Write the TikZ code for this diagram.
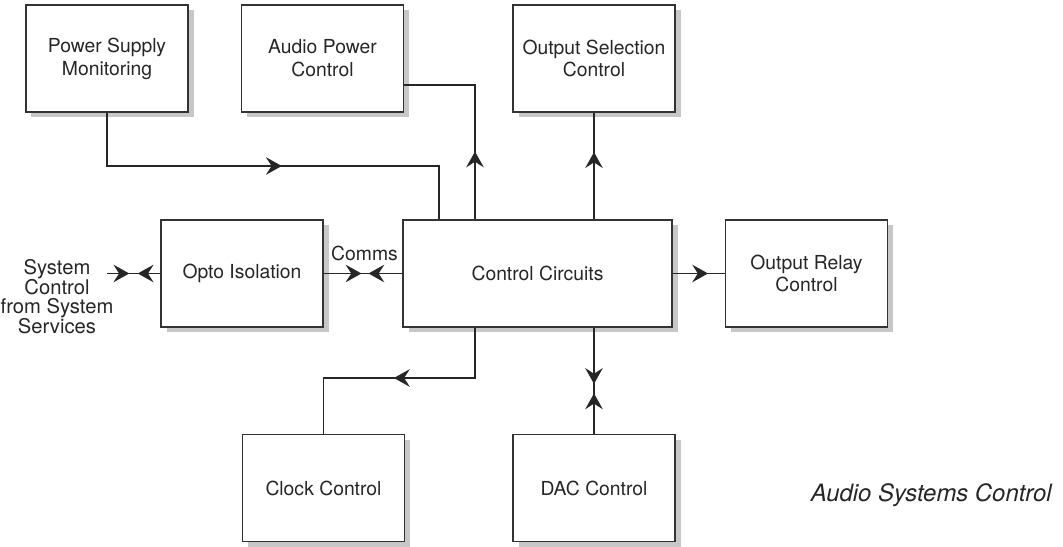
\documentclass[tikz,border=0pt]{standalone}
\usepackage{fontspec}
\setmainfont{TeX Gyre Heros}
\usetikzlibrary{arrows.meta,decorations.markings,shadows}

\begin{document}
\begin{tikzpicture}[
    font=\fontsize{11}{13}\selectfont, text=black!85,
    >={Stealth[length=9pt, width=10pt, inset=3.2pt]},
    block/.style={draw=black!80, line width=1.1pt, fill=white, align=center,
        minimum width=3.24cm, minimum height=2.14cm, inner sep=0pt,
        drop shadow={shadow xshift=0.11cm, shadow yshift=-0.11cm, fill=black!22, opacity=1}},
    link/.style={draw=black!85, line width=0.8pt},
    midarrow/.style={postaction={decorate}, decoration={markings,
        mark=at position #1 with {\arrow{>}}}},
    meet/.style 2 args={postaction={decorate}, decoration={markings,
        mark=at position #1 with {\arrow{>}},
        mark=at position #2 with {\arrowreversed{>}}}},
]
    \useasboundingbox (0,0) rectangle (21.26,10.94);

    \node[block] (psm) at (2.14,9.77) {Power Supply\\Monitoring};
    \node[block] (apc) at (6.45,9.77) {Audio Power\\Control};
    \node[block] (osc) at (11.88,9.77) {Output Selection\\Control};
    \node[block] (opto) at (4.84,5.47) {Opto Isolation};
    \node[block, minimum width=5.38cm] (ctrl) at (10.75,5.47) {Control Circuits};
    \node[block] (orc) at (16.13,5.47) {Output Relay\\Control};
    \node[block] (clk) at (6.47,1.18) {Clock Control};
    \node[block] (dac) at (11.88,1.18) {DAC Control};

    \node[align=center, font=\fontsize{11.5}{11.2}\selectfont] (sys) at (1.14,5.01) {System\\Control\\from System\\Services};
    \node (comms) at (7.29,5.88) {Comms};
    \node[anchor=east, inner sep=0pt, font=\fontsize{13.6}{16}\selectfont\itshape] (title) at (21.04,1.04) {Audio Systems Control};

    \coordinate (sysin) at (2.14,5.47);
    \coordinate (psmturn) at (8.78,7.62);
    \coordinate (apcturn) at (9.5,9.24);
    \coordinate (clkturn) at (9.5,3.38);

    \draw[link, meet={0.42}{0.58}] (sysin) -- (opto.west);
    \draw[link, meet={0.48}{0.57}] (opto.east) -- (ctrl.west);
    \draw[link, midarrow=0.52] (psm.south) |- (psmturn) -- (psmturn |- ctrl.north);
    \draw[link, midarrow=0.33] (apcturn |- ctrl.north) -- (apcturn) -- (apcturn -| apc.east);
    \draw[link, midarrow=0.63] (osc.south |- ctrl.north) -- (osc.south);
    \draw[link, midarrow=0.68] (ctrl.east) -- (orc.west);
    \draw[link, midarrow=0.51] (clkturn |- ctrl.south) -- (clkturn) -| (clk.north);
    \draw[link, meet={0.38}{0.47}] (dac.north) -- (dac.north |- ctrl.south);
\end{tikzpicture}
\end{document}
